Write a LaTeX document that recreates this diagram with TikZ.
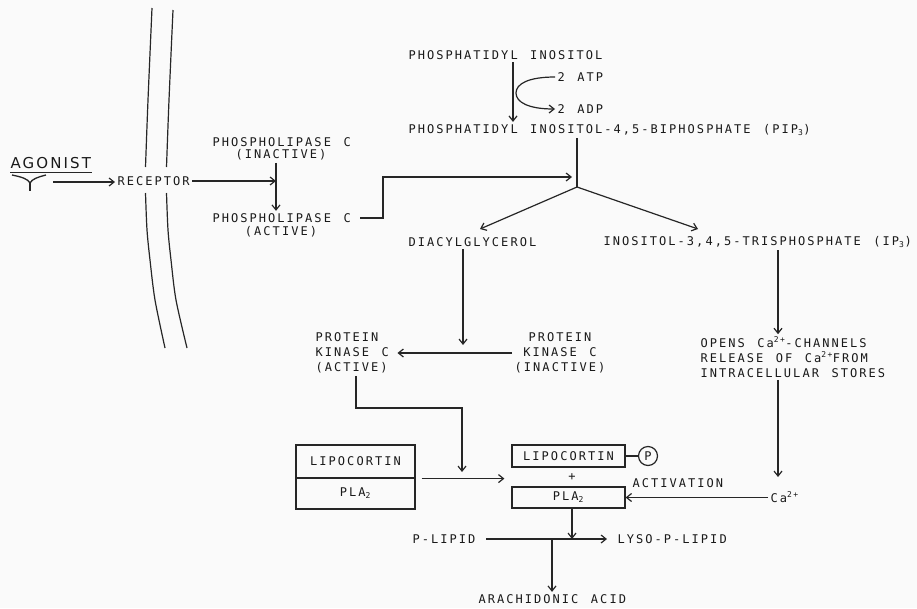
\documentclass[tikz,border=0pt]{standalone}
\usepackage{fontspec}
\newfontfamily\monofnt[LetterSpace=17,WordSpace=1.35]{DejaVu Sans Mono}
\newfontfamily\handfnt[LetterSpace=14]{DejaVu Sans}
\usetikzlibrary{arrows.meta,calc}
\tikzset{
  txt/.style={inner sep=2pt, text=black!90, font=\monofnt\fontsize{12}{15}\selectfont},
  box/.style={txt, draw, inner sep=0pt},
  arr/.style={-{Straight Barb[length=5pt,width=8pt]}},
  membrane/.style={line width=1.2pt}
}
\begin{document}
\begin{tikzpicture}[x=1pt,y=-1pt,line width=1.2pt,draw=black!85]
\useasboundingbox (0,0) rectangle (917,608);
\fill[gray!4] (0,0) rectangle (917,608);

% membrane
\draw[membrane] plot[smooth] coordinates {(152,8) (148,100) (145.5,167)};
\draw[membrane] plot[smooth] coordinates {(145.5,193) (147,230) (150,260) (155,300) (165,348)};
\draw[membrane] plot[smooth] coordinates {(173,10) (169,100) (166.5,167)};
\draw[membrane] plot[smooth] coordinates {(166.5,193) (168,230) (171,260) (176,300) (187,348)};

% agonist
\node[anchor=west,inner sep=0pt,text=black!90,font=\handfnt\fontsize{15}{17}\selectfont] (agonist) at (10,163) {AGONIST};
\draw[line width=1.3pt] ([yshift=-3pt]agonist.south west) -- ([yshift=-3pt]agonist.south east);
\draw[line width=1.3pt] (12,175) .. controls (22,177) and (28,179) .. (30,183) .. controls (32,179) and (38,177) .. (46,175);
\draw[line width=1.3pt] (30,183) -- (30,191);

% text nodes
\node[txt,anchor=west] (receptor) at (115,181) {RECEPTOR};
\node[txt,anchor=west] (plci) at (210,142) {PHOSPHOLIPASE C};
\node[txt] (plciS) at (281,155) {(INACTIVE)};
\node[txt,anchor=west] (plca) at (210,218) {PHOSPHOLIPASE C};
\node[txt] (plcaS) at (281,232) {(ACTIVE)};
\node[txt,anchor=west] (pi) at (406,55) {PHOSPHATIDYL INOSITOL};
\node[txt,anchor=west] (atp) at (555,77) {2 ATP};
\node[txt,anchor=west] (adp) at (555,109) {2 ADP};
\node[txt,anchor=west] (pip) at (406,130) {PHOSPHATIDYL INOSITOL-4,5-BIPHOSPHATE (PIP\textsubscript{3})};
\node[txt,anchor=west] (dag) at (406,242) {DIACYLGLYCEROL};
\node[txt,anchor=west] (ip3) at (601,242) {INOSITOL-3,4,5-TRISPHOSPHATE (IP\textsubscript{3})};
\node[txt,anchor=west,align=left] (pkca) at (313,353) {PROTEIN\\KINASE C\\(ACTIVE)};
\node[txt,align=center] (pkci) at (560,353) {PROTEIN\\KINASE C\\(INACTIVE)};
\node[txt,anchor=west,align=left] (opens) at (698,357) {OPENS Ca\textsuperscript{2+}-CHANNELS\\RELEASE OF Ca\textsuperscript{2+}FROM\\INTRACELLULAR STORES};
\node[txt,anchor=west] (ca) at (768,497) {Ca\textsuperscript{2+}};
\node[txt,anchor=west] (act) at (630,483) {ACTIVATION};

% boxes
\node[box,minimum width=119pt,minimum height=33pt] (lipoL) at (355.5,461.5) {LIPOCORTIN};
\node[box,minimum width=119pt,minimum height=31pt] (plaL) at (355.5,493.5) {PLA\textsubscript{2}};
\node[box,minimum width=113pt,minimum height=22pt] (lipoR) at (568.5,456) {LIPOCORTIN};
\node[box,minimum width=113pt,minimum height=21pt] (plaR) at (568.5,497.5) {PLA\textsubscript{2}};
\node[txt,draw,circle,inner sep=0pt,minimum size=19pt] (p) at (648,456) {P};
\node[txt] (plus) at (572,477) {+};

\node[txt,anchor=west] (plipid) at (410,539) {P-LIPID};
\node[txt,anchor=west] (lyso) at (615,539) {LYSO-P-LIPID};
\node[txt,anchor=west] (arach) at (476,599) {ARACHIDONIC ACID};

% coordinates
\coordinate (ag) at (53,182);
\coordinate (v1) at (276,180);
\coordinate (kx) at (383,177);
\coordinate (jin) at (572,177);
\coordinate (j) at (577,187);
\coordinate (px) at (513,0);
\coordinate (dagtip) at (480,229);
\coordinate (iptip) at (698,229);
\coordinate (dgend) at (463,345);
\coordinate (xc) at (778,0);
\coordinate (catop) at (778,477);
\coordinate (pk1) at (356,0);
\coordinate (pkmid) at (462,408);
\coordinate (pkend) at (462,472);
\coordinate (arx) at (552,539);

% connectors
\draw[arr] (ag) -- (ag -| receptor.west);
\draw[arr] (receptor.east) -- (receptor.east -| v1);
\draw[arr] (plciS.south -| v1) -- (plca.north -| v1);
\draw[arr] ([xshift=7pt]plca.east) -| (kx) -- (jin);
\draw (pip.south -| j) -- (j);
\draw[arr] (j) -- (dagtip);
\draw[arr] (j) -- (iptip);
\draw[arr] (pi.south -| px) -- (pip.north -| px);
\draw[arr] (atp.west) .. controls (528,77) and (516,84) .. (516,93) .. controls (516,102) and (528,109) .. (adp.west);
\draw[arr] (dag.south -| dgend) -- (dgend);
\draw[arr] (pkci.west) -- ([xshift=6pt]pkca.east);
\draw[arr] (pkca.south -| pk1) |- (pkmid) -- (pkend);
\draw[arr] (ip3.south -| xc) -- (opens.north -| xc);
\draw[arr] (opens.south -| xc) -- (catop);
\draw[arr] (ca.west |- plaR.east) -- (plaR.east);
\draw (lipoR.east) -- (p.west);
\draw[arr] ([xshift=6pt]lipoL.south east) -- ([xshift=-7pt]lipoL.south east -| plaR.west);
\draw[arr] (plaR.south -| plus) -- (plus |- plipid.east);
\draw[arr] ([xshift=8pt]plipid.east) -- ([xshift=-8pt]lyso.west);
\draw[arr] (arx) -- (arach.north -| arx);
\end{tikzpicture}
\end{document}
